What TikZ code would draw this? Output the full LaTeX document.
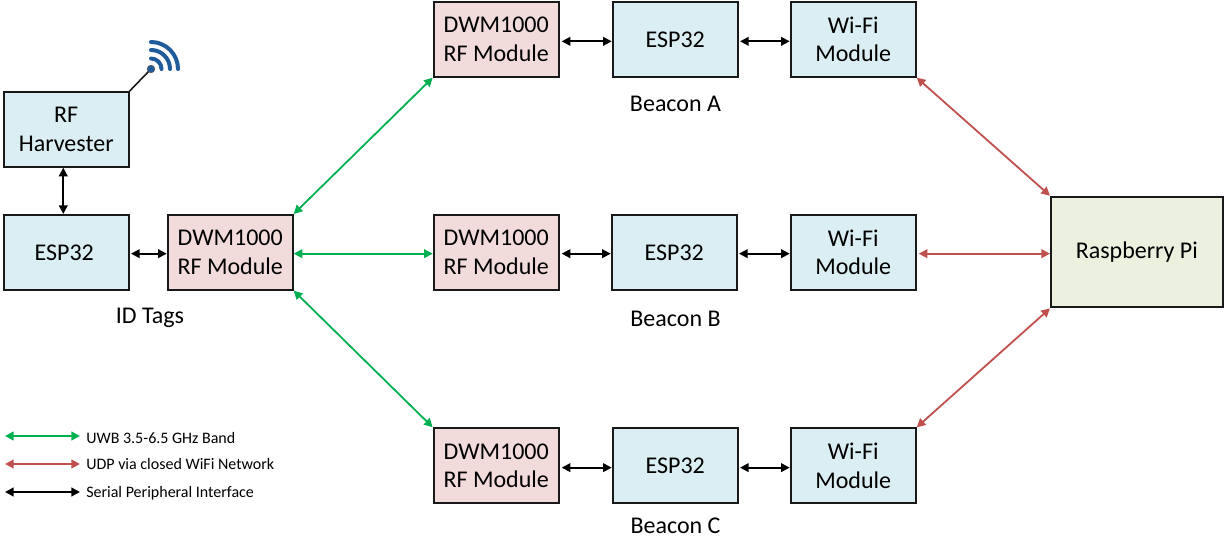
\documentclass[tikz,border=0pt]{standalone}
\usepackage{fontspec}
\setmainfont{Carlito}
\usetikzlibrary{arrows.meta}
\definecolor{bluebox}{HTML}{DAEEF3}
\definecolor{pinkbox}{HTML}{F2DCDB}
\definecolor{greenbox}{HTML}{EBF1DE}
\definecolor{uwb}{HTML}{00B050}
\definecolor{udp}{HTML}{C0504D}
\definecolor{wave}{HTML}{1F5C99}
\tikzset{
  x=0.75pt,y=-0.75pt,
  blockbase/.style={draw=black!90,line width=1.5pt,anchor=north west,align=center,inner sep=0pt,font=\fontsize{18}{21.5}\selectfont,minimum width=93.75pt,minimum height=56pt},
  bluenode/.style={blockbase,fill=bluebox},
  pinknode/.style={blockbase,fill=pinkbox},
  pinode/.style={blockbase,fill=greenbox,minimum width=128.75pt,minimum height=83pt},
  caption/.style={font=\fontsize{18}{20}\selectfont,inner sep=0pt},
  legendtext/.style={font=\fontsize{12}{14}\selectfont,inner sep=0pt,anchor=west},
  link/.style={line width=1.35pt,{Triangle[length=6.5pt,width=6.5pt]}-{Triangle[length=6.5pt,width=6.5pt]}},
  spi/.style={link,black},
  uwblink/.style={link,uwb},
  udplink/.style={link,udp},
  wavearc/.style={wave,line width=3pt,line cap=round},
}
\begin{document}
\begin{tikzpicture}
\useasboundingbox (0,0) rectangle (1225,552);
\node[bluenode] (harv) at (2.7,91) {RF\\Harvester};
\node[bluenode] (esp) at (2.7,214) {\hspace*{-3pt}ESP32};
\node[pinknode] (tag) at (166.7,214) {DWM1000\\RF Module};
\node[pinknode] (dwa) at (432.7,1) {DWM1000\\RF Module};
\node[bluenode] (espa) at (611.7,1) {ESP32};
\node[bluenode] (wfa) at (789.7,1) {Wi-Fi\\Module};
\node[pinknode] (dwb) at (432.7,214) {DWM1000\\RF Module};
\node[bluenode] (espb) at (610.7,214) {ESP32};
\node[bluenode] (wfb) at (789.7,214) {Wi-Fi\\Module};
\node[pinknode] (dwc) at (432.7,427.3) {DWM1000\\RF Module};
\node[bluenode] (espc) at (611.7,427.3) {ESP32};
\node[bluenode] (wfc) at (789.7,427.3) {Wi-Fi\\Module};
\node[pinode] (pi) at (1050,195.7) {\raisebox{-1.5pt}{Raspberry Pi}};
\node[caption] (la) at (675.5,103.5) {Beacon A};
\node[caption] (lb) at (675.5,319) {Beacon B};
\node[caption] (lc) at (675.5,526) {Beacon C};
\node[caption] (lt) at (150,318) {ID Tags};
% antenna
\coordinate (ant) at (151,69);
\draw[line width=1.2pt,black!90] (harv.north east) -- (ant);
\fill[wave,draw=black!70,line width=0.4pt] (ant) circle (3.8);
\draw[wavearc] (151,58.5) arc[start angle=90,end angle=0,radius=7.9pt];
\draw[wavearc] (151,50) arc[start angle=90,end angle=0,radius=14.25pt];
\draw[wavearc] (151,42) arc[start angle=90,end angle=0,radius=20.25pt];
% spi
\draw[spi] ([xshift=-2.2pt]harv.south) -- ([xshift=-2.2pt]esp.north);
\draw[spi] ([yshift=-1pt,xshift=1pt]esp.east) -- ([yshift=-1pt]esp.east -| tag.west);
\draw[spi] ([yshift=-1.5pt,xshift=1.5pt]dwa.east) -- ([yshift=-1.5pt]dwa.east -| espa.west);
\draw[spi] ([yshift=-1.5pt,xshift=1pt]espa.east) -- ([yshift=-1.5pt]espa.east -| wfa.west);
\draw[spi] ([yshift=-1pt,xshift=1.5pt]dwb.east) -- ([yshift=-1pt]dwb.east -| espb.west);
\draw[spi] ([yshift=-1pt,xshift=1pt]espb.east) -- ([yshift=-1pt]espb.east -| wfb.west);
\draw[spi] ([yshift=-1.5pt,xshift=1.5pt]dwc.east) -- ([yshift=-1.5pt]dwc.east -| espc.west);
\draw[spi] ([yshift=-1.5pt,xshift=1pt]espc.east) -- ([yshift=-1.5pt]espc.east -| wfc.west);
% uwb
\draw[uwblink] (tag.north east) -- (dwa.south west);
\draw[uwblink] ([yshift=-1pt]tag.east) -- ([yshift=-1pt]dwb.west);
\draw[uwblink] (tag.south east) -- (dwc.north west);
% udp
\draw[udplink] (wfa.south east) -- (pi.north west);
\draw[udplink] ([yshift=-1pt,xshift=1.5pt]wfb.east) -- ([yshift=-1pt]wfb.east -| pi.west);
\draw[udplink] (wfc.north east) -- (pi.south west);
% legend
\node[legendtext] (t1) at (86,438.5) {UWB 3.5-6.5 GHz Band};
\node[legendtext] (t2) at (86,464.5) {UDP via closed WiFi Network};
\node[legendtext] (t3) at (86,493) {Serial Peripheral Interface};
\coordinate (l1a) at (5,436); \coordinate (l1b) at (80,436);
\coordinate (l2a) at (5,464); \coordinate (l2b) at (80,464);
\coordinate (l3a) at (5,492); \coordinate (l3b) at (80,492);
\draw[uwblink,line width=1.6pt] (l1a) -- (l1b);
\draw[udplink,line width=1.6pt] (l2a) -- (l2b);
\draw[spi,line width=1.6pt] (l3a) -- (l3b);
\end{tikzpicture}
\end{document}
